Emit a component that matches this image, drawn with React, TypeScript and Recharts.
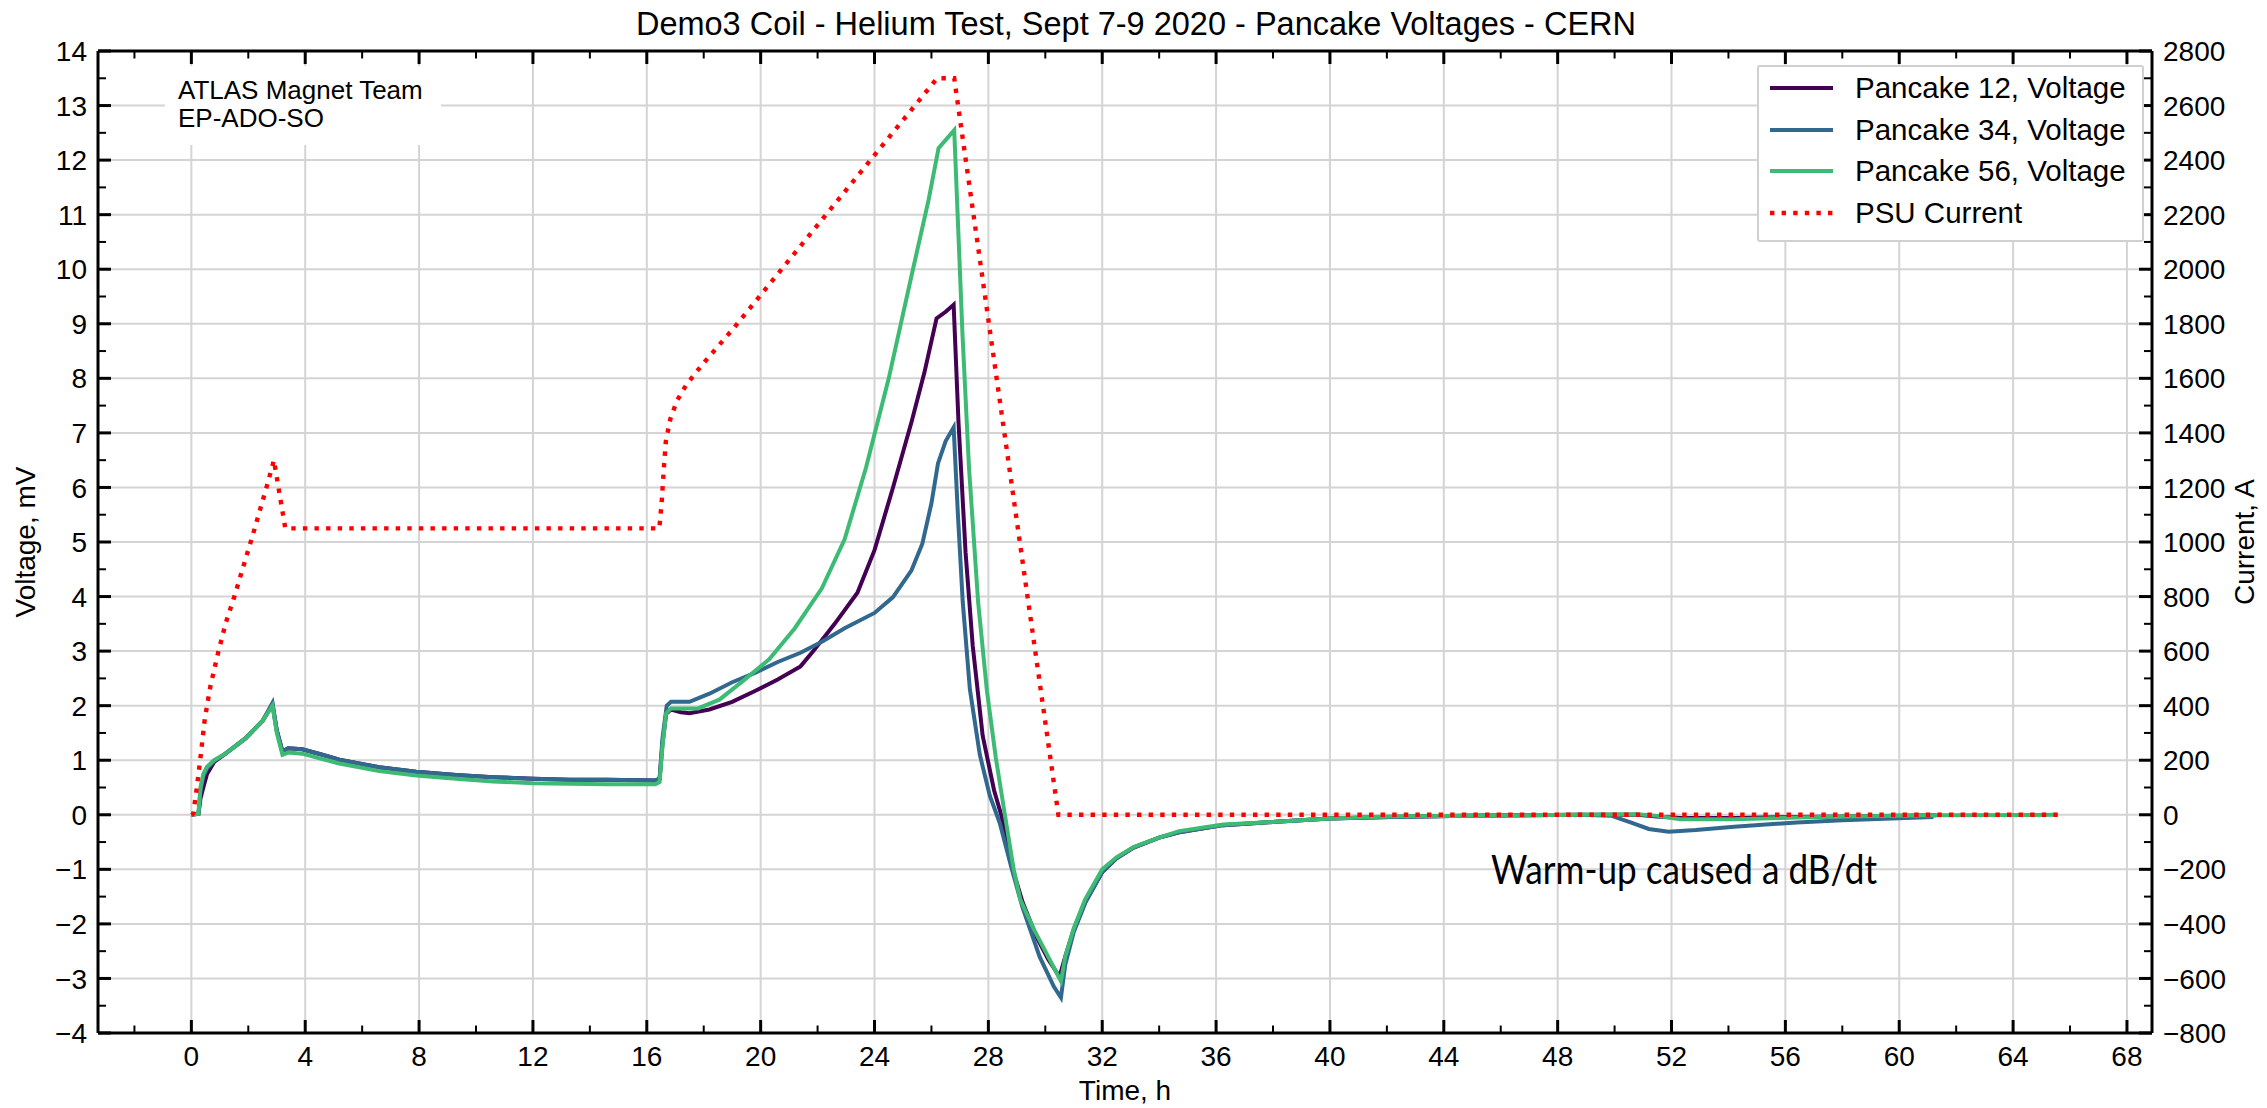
import React from "react";
import { LineChart, Line, XAxis, YAxis, CartesianGrid, Legend } from "recharts";

const FONT = "'Liberation Sans', Arial, Helvetica, sans-serif";
const W = 2267;
const H = 1108;

// ---- axis ticks ----
const timeTicks = [-2, 0, 2, 4, 6, 8, 10, 12, 14, 16, 18, 20, 22, 24, 26, 28, 30, 32, 34, 36, 38, 40, 42, 44, 46, 48, 50, 52, 54, 56, 58, 60, 62, 64, 66, 68];
const timeGrid = [0, 4, 8, 12, 16, 20, 24, 28, 32, 36, 40, 44, 48, 52, 56, 60, 64, 68];
const voltTicks = [-4, -3.5, -3, -2.5, -2, -1.5, -1, -0.5, 0, 0.5, 1, 1.5, 2, 2.5, 3, 3.5, 4, 4.5, 5, 5.5, 6, 6.5, 7, 7.5, 8, 8.5, 9, 9.5, 10, 10.5, 11, 11.5, 12, 12.5, 13, 13.5, 14];
const voltGrid = [-4, -3, -2, -1, 0, 1, 2, 3, 4, 5, 6, 7, 8, 9, 10, 11, 12, 13, 14];
const currentTicks = [-800, -700, -600, -500, -400, -300, -200, -100, 0, 100, 200, 300, 400, 500, 600, 700, 800, 900, 1000, 1100, 1200, 1300, 1400, 1500, 1600, 1700, 1800, 1900, 2000, 2100, 2200, 2300, 2400, 2500, 2600, 2700, 2800];

// ---- Pancake 12 ----
const p12Hours = [0, 0.25, 0.32, 0.42, 0.55, 0.8, 1.2, 1.9, 2.5, 2.85, 3.0, 3.2, 3.4, 3.9, 4.6, 5.2, 6.6, 7.9, 9.3, 10.6, 12.0, 13.3, 14.6, 16.3, 16.45,
  16.55, 16.68, 16.85, 17.2, 17.5, 18.2, 19.0, 19.8, 20.6, 21.4, 21.85, 22.6, 23.4, 24.0, 24.65, 25.3, 25.75, 26.18, 26.5, 26.78,
  26.95, 27.2, 27.45, 27.8, 28.2, 28.45, 28.8, 29.2, 29.7, 30.1, 30.5, 30.7, 31.0, 31.4, 32.0, 32.5, 33.1, 34.0, 34.7, 36.25, 38.1,
  40.0, 42.1, 44.8, 48.8, 50.8, 51.5, 52.3, 54.2, 56.4, 58.0, 61.3];
const p12Volt = [0, 0.02, 0.3, 0.5, 0.75, 0.97, 1.12, 1.4, 1.72, 2.02, 1.55, 1.16, 1.22, 1.2, 1.1, 1.01, 0.87, 0.79, 0.73, 0.69, 0.66, 0.64, 0.64, 0.63, 0.66,
  1.3, 1.85, 1.93, 1.88, 1.86, 1.93, 2.07, 2.27, 2.48, 2.72, 3.0, 3.5, 4.07, 4.85, 6.0, 7.2, 8.1, 9.1, 9.22, 9.35,
  7.2, 4.8, 3.1, 1.45, 0.45, 0, -0.9, -1.6, -2.25, -2.65, -2.97, -2.6, -2.1, -1.6, -1.05, -0.8, -0.6, -0.42, -0.32, -0.19, -0.13,
  -0.07, -0.04, -0.02, 0, 0, -0.03, -0.06, -0.06, -0.04, -0.03, -0.01];

// ---- Pancake 34 ----
const p34Hours = [0, 0.25, 0.32, 0.42, 0.55, 0.8, 1.2, 1.9, 2.5, 2.85, 3.0, 3.2, 3.4, 3.9, 4.6, 5.2, 6.6, 7.9, 9.3, 10.6, 12.0, 13.3, 14.6, 16.3, 16.45,
  16.55, 16.7, 16.85, 17.5, 18.2, 19.0, 19.8, 20.6, 21.4, 22.15, 22.95, 24.0, 24.65, 25.3, 25.68, 26.0, 26.23, 26.5, 26.78,
  26.93, 27.1, 27.35, 27.7, 28.05, 28.4, 28.8, 29.2, 29.8, 30.3, 30.55, 30.7, 31.0, 31.4, 32.0, 32.5, 33.1, 34.0, 34.7, 36.25, 38.1,
  40.0, 42.1, 44.8, 48.8, 49.9, 50.56, 51.2, 51.9, 52.85, 54.2, 56.4, 58.0, 61.2];
const p34Volt = [0, 0.02, 0.45, 0.7, 0.85, 0.99, 1.12, 1.4, 1.72, 2.05, 1.55, 1.16, 1.22, 1.2, 1.1, 1.01, 0.87, 0.79, 0.73, 0.69, 0.66, 0.64, 0.64, 0.63, 0.66,
  1.4, 2.0, 2.07, 2.07, 2.22, 2.43, 2.6, 2.8, 2.97, 3.17, 3.42, 3.7, 3.99, 4.48, 4.97, 5.71, 6.44, 6.85, 7.1,
  5.5, 3.9, 2.3, 1.1, 0.35, -0.15, -0.95, -1.7, -2.6, -3.15, -3.35, -2.75, -2.15, -1.62, -1.05, -0.8, -0.6, -0.42, -0.32, -0.19, -0.13,
  -0.07, -0.04, -0.02, 0, -0.02, -0.14, -0.26, -0.31, -0.28, -0.22, -0.14, -0.1, -0.04];

// ---- Pancake 56 ----
const p56Hours = [0, 0.25, 0.32, 0.42, 0.55, 0.8, 1.2, 1.9, 2.5, 2.85, 3.0, 3.2, 3.4, 3.9, 4.6, 5.2, 6.6, 7.9, 9.3, 10.6, 12.0, 13.3, 14.6, 16.3, 16.45,
  16.55, 16.68, 16.85, 17.8, 18.55, 19.35, 20.3, 21.2, 22.15, 22.95, 23.7, 24.5, 25.3, 25.9, 26.25, 26.8,
  27.09, 27.32, 27.64, 27.95, 28.26, 28.58, 28.89, 29.12, 29.6, 30.1, 30.45, 30.55, 30.7, 31.0, 31.4, 32.0, 32.5, 33.1, 34.0, 34.7, 36.25, 38.1,
  40.0, 42.1, 44.8, 48.8, 50.8, 51.5, 52.3, 54.2, 56.4, 58.0, 61.3, 65.5];
const p56Volt = [0, 0.02, 0.5, 0.75, 0.88, 1.0, 1.12, 1.4, 1.72, 2.0, 1.5, 1.1, 1.14, 1.12, 1.02, 0.94, 0.8, 0.72, 0.66, 0.61, 0.58, 0.57, 0.56, 0.56, 0.6,
  1.25, 1.86, 1.95, 1.95, 2.11, 2.44, 2.85, 3.42, 4.15, 5.05, 6.36, 8.0, 9.88, 11.27, 12.22, 12.55,
  8.81, 6.36, 3.9, 2.27, 1.05, 0, -1.0, -1.55, -2.1, -2.6, -2.95, -3.05, -2.6, -2.08, -1.55, -1.0, -0.78, -0.59, -0.42, -0.3, -0.18, -0.13,
  -0.07, -0.03, -0.02, 0, 0.01, -0.02, -0.08, -0.08, -0.05, -0.03, -0.01, 0];

// ---- PSU current (A) ----
const psuHours = [0, 0.07, 0.2, 0.34, 0.47, 0.67, 0.94, 1.21, 1.48, 2.15, 2.66, 2.9, 3.3, 16.44, 16.52, 16.6, 16.67, 16.83, 17.06, 17.38, 17.93, 19.02, 26.2, 26.8, 30.46, 65.6];
const psuAmps = [0, 5, 106, 228, 350, 472, 594, 704, 790, 1023, 1208, 1300, 1050, 1050, 1142, 1272, 1370, 1452, 1518, 1575, 1648, 1780, 2700, 2700, 0, 0];

const toPoints = (hours: number[], values: number[]) => hours.map((t, i) => ({ t, v: values[i] }));

const series = [
  { name: "Pancake 12, Voltage", color: "#440154", data: toPoints(p12Hours, p12Volt) },
  { name: "Pancake 34, Voltage", color: "#31688e", data: toPoints(p34Hours, p34Volt) },
  { name: "Pancake 56, Voltage", color: "#3dbb74", data: toPoints(p56Hours, p56Volt) },
];
const psuData = toPoints(psuHours, psuAmps);

const DOT = "4.4 7.2";

const isMajor = (v: number, step: number) => Math.abs(v / step - Math.round(v / step)) < 1e-9;
const fmt = (v: number) => (v < 0 ? "\u2212" + Math.abs(v) : String(v));

const BottomTick = ({ x, y, payload }: any) => {
  const major = isMajor(payload.value, 4);
  return (
    <g>
      <line x1={x} x2={x} y1={y} y2={y - (major ? 13 : 7.5)} stroke="#000" strokeWidth={major ? 3 : 2} />
      {major && (
        <text x={x} y={y + 33} textAnchor="middle" fontFamily={FONT} fontSize={28} fill="#000">
          {fmt(payload.value)}
        </text>
      )}
    </g>
  );
};

const TopTick = ({ x, y, payload }: any) => {
  const major = isMajor(payload.value, 4);
  return <line x1={x} x2={x} y1={y} y2={y + (major ? 13 : 7.5)} stroke="#000" strokeWidth={major ? 3 : 2} />;
};

const LeftTick = ({ x, y, payload }: any) => {
  const major = isMajor(payload.value, 1);
  return (
    <g>
      <line x1={x} x2={x + (major ? 13 : 8)} y1={y} y2={y} stroke="#000" strokeWidth={major ? 3 : 2} />
      {major && (
        <text x={x - 11} y={y} dy="0.36em" textAnchor="end" fontFamily={FONT} fontSize={28} fill="#000">
          {fmt(payload.value)}
        </text>
      )}
    </g>
  );
};

const RightTick = ({ x, y, payload }: any) => {
  const major = isMajor(payload.value, 200);
  return (
    <g>
      <line x1={x} x2={x - (major ? 13 : 8)} y1={y} y2={y} stroke="#000" strokeWidth={major ? 3 : 2} />
      {major && (
        <text x={x + 11} y={y} dy="0.36em" textAnchor="start" fontFamily={FONT} fontSize={28} fill="#000">
          {fmt(payload.value)}
        </text>
      )}
    </g>
  );
};

const legendItems = [
  ...series.map((s) => ({ name: s.name, color: s.color, dash: undefined as string | undefined })),
  { name: "PSU Current", color: "#ff0000", dash: DOT },
];

const LegendBox = () => (
  <div
    style={{
      width: 387,
      boxSizing: "border-box",
      border: "2px solid #d0d0d0",
      borderRadius: 3,
      background: "#fff",
      paddingBottom: 6,
      fontFamily: FONT,
      fontSize: 29.5,
      color: "#000",
    }}
  >
    {legendItems.map((item) => (
      <div key={item.name} style={{ display: "flex", alignItems: "center", height: 41.7 }}>
        <svg width={63} height={8} style={{ marginLeft: 11, marginRight: 22, display: "block" }}>
          <line x1={0} x2={63} y1={4} y2={4} stroke={item.color} strokeWidth={item.dash ? 4.4 : 4} strokeDasharray={item.dash} />
        </svg>
        <span style={{ lineHeight: "30px", whiteSpace: "nowrap" }}>{item.name}</span>
      </div>
    ))}
  </div>
);

export default function App() {
  return (
    <div style={{ position: "absolute", left: 0, top: 0, width: W, height: H, background: "#fff" }}>
      <LineChart width={W} height={H} margin={{ top: 50, right: 0, bottom: 0, left: 0 }}>
        <CartesianGrid stroke="#d4d4d4" strokeWidth={2} horizontalValues={voltGrid} verticalValues={timeGrid} />
        <XAxis
          dataKey="t"
          type="number"
          domain={[-3.28, 68.88]}
          allowDataOverflow
          ticks={timeTicks}
          interval={0}
          height={75}
          tickSize={0}
          tickMargin={0}
          tickLine={false}
          axisLine={{ stroke: "#000", strokeWidth: 3 }}
          tick={<BottomTick />}
          label={(p: any) => (
            <text x={p.viewBox.x + p.viewBox.width / 2} y={p.viewBox.y + 67} textAnchor="middle" fontFamily={FONT} fontSize={28} fill="#000">
              Time, h
            </text>
          )}
        />
        <XAxis
          xAxisId="top"
          orientation="top"
          dataKey="t"
          type="number"
          domain={[-3.28, 68.88]}
          allowDataOverflow
          ticks={timeTicks}
          interval={0}
          height={1}
          tickSize={0}
          tickMargin={0}
          tickLine={false}
          axisLine={{ stroke: "#000", strokeWidth: 3 }}
          tick={<TopTick />}
        />
        <YAxis
          type="number"
          domain={[-4, 14]}
          allowDataOverflow
          ticks={voltTicks}
          interval={0}
          width={98}
          tickSize={0}
          tickMargin={0}
          tickLine={false}
          axisLine={{ stroke: "#000", strokeWidth: 3 }}
          tick={<LeftTick />}
          label={(p: any) => {
            const cy = p.viewBox.y + p.viewBox.height / 2;
            return (
              <text x={35} y={cy} transform={`rotate(-90 35 ${cy})`} textAnchor="middle" fontFamily={FONT} fontSize={28} fill="#000">
                Voltage, mV
              </text>
            );
          }}
        />
        <YAxis
          yAxisId="right"
          orientation="right"
          type="number"
          domain={[-800, 2800]}
          allowDataOverflow
          ticks={currentTicks}
          interval={0}
          width={115}
          tickSize={0}
          tickMargin={0}
          tickLine={false}
          axisLine={{ stroke: "#000", strokeWidth: 3 }}
          tick={<RightTick />}
          label={(p: any) => {
            const cy = p.viewBox.y + p.viewBox.height / 2;
            const lx = p.viewBox.x + 102;
            return (
              <text x={lx} y={cy} transform={`rotate(-90 ${lx} ${cy})`} textAnchor="middle" fontFamily={FONT} fontSize={28} fill="#000">
                Current, A
              </text>
            );
          }}
        />
        {series.map((s) => (
          <Line
            key={s.name}
            data={s.data}
            dataKey="v"
            name={s.name}
            type="linear"
            stroke={s.color}
            strokeWidth={4}
            dot={false}
            activeDot={false}
            isAnimationActive={false}
          />
        ))}
        <Line
          data={psuData}
          dataKey="v"
          name="PSU Current"
          yAxisId="right"
          type="linear"
          stroke="#ff0000"
          strokeWidth={4.4}
          strokeDasharray={DOT}
          dot={false}
          activeDot={false}
          isAnimationActive={false}
        />
        <Legend
          layout="vertical"
          align="center"
          verticalAlign="middle"
          wrapperStyle={{ left: 1757, top: 65, width: 387 }}
          content={() => <LegendBox />}
        />
      </LineChart>
      <svg width={W} height={H} style={{ position: "absolute", left: 0, top: 0, pointerEvents: "none" }}>
        <text x={1136} y={35} textAnchor="middle" fontFamily={FONT} fontSize={32.5} fill="#000">
          Demo3 Coil - Helium Test, Sept 7-9 2020 - Pancake Voltages - CERN
        </text>
        <rect x={165} y={66} width={276} height={79} fill="#fff" />
        <text x={178} y={99} fontFamily={FONT} fontSize={26} fill="#000">ATLAS Magnet Team</text>
        <text x={178} y={127} fontFamily={FONT} fontSize={26} fill="#000">EP-ADO-SO</text>
        <text x={1491} y={884} fontFamily="Lato, 'Open Sans', sans-serif" fontSize={40} textLength={386} lengthAdjust="spacingAndGlyphs" fill="#000">
          Warm-up caused a dB/dt
        </text>
      </svg>
    </div>
  );
}
